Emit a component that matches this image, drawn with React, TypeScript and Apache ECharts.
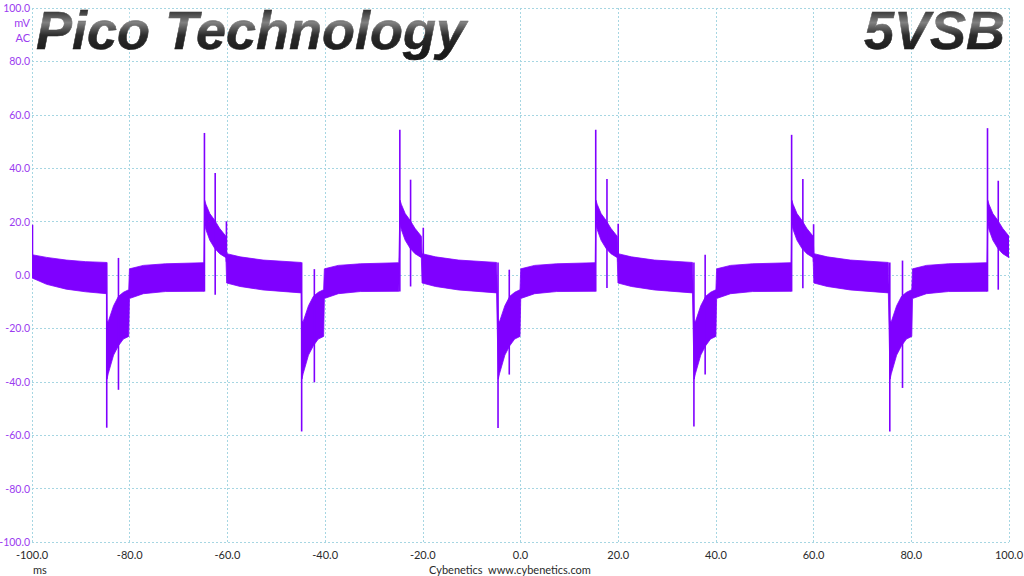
import React, { useEffect, useRef } from "react";
import * as echarts from "echarts";

// ---- data (time in ms, values in mV) ----
const xTicks = [-100, -80, -60, -40, -20, 0, 20, 40, 60, 80, 100];
const yTicks = [-100, -80, -60, -40, -20, 0, 20, 40, 60, 80, 100];

// times of the negative (falling) and positive (rising) switching events
const negTimes = [-84.7, -44.8, -4.6, 35.5, 75.6];
const posTimes = [-64.7, -24.7, 15.4, 55.5, 95.6];

// noise band before the first event
const leadTimes = [-100, -97, -93, -89, -84.75];
const leadHigh = [7.6, 6.6, 5.6, 5.0, 4.7];
const leadLow = [-1.1, -3.5, -5.3, -6.3, -7.0];

// noise band after a negative event (ms after the event)
const afterNegDt = [0.05, 0.3, 1.4, 2.4, 3.4, 4.5, 4.65, 7.5, 12, 19.9];
const afterNegHigh = [-17, -17.5, -11.5, -8.0, -6.5, -5.5, 2.3, 3.6, 4.2, 4.6];
const afterNegLow = [-39, -37, -30, -26.5, -24, -23, -8.8, -7.0, -6.2, -6.1];

// noise band after a positive event (ms after the event)
const afterPosDt = [0.05, 0.3, 1.1, 2.1, 3.1, 4.4, 4.55, 7.3, 12, 19.8];
const afterPosHigh = [28, 26.5, 23, 20.5, 17.5, 14.5, 8.0, 6.8, 5.6, 4.7];
const afterPosLow = [19, 17, 13, 10, 8, 6.5, -3.0, -4.3, -5.6, -6.7];

// narrow spikes
const spikeTimes = [-99.9, -84.7, -82.3, -64.7, -62.5, -60.2, -44.8, -42.2, -24.7, -22.5, -19.9, -4.6, -2.3, 15.4, 17.7, 20.0, 35.5, 37.8, 55.5, 57.8, 60.0, 75.6, 78.2, 95.6, 97.8];
const spikeHigh = [18.8, 4.7, 6.4, 53.2, 38.2, 20.1, 4.7, 2.2, 54.4, 35.7, 17.7, 4.7, 2.0, 54.4, 36.0, 19.2, 4.7, 7.6, 52.5, 36.0, 19.0, 4.7, 5.4, 55.0, 35.3];
const spikeLow = [0, -57.2, -43.0, -6.2, -7.4, 5.0, -58.6, -40.2, -6.2, -4.3, 5.0, -57.3, -37.3, -6.2, -4.9, 5.0, -56.7, -37.3, -6.2, -5.0, 5.0, -58.6, -42.3, -6.2, -5.5];

const TRACE = "#7f00ff";
const LABEL_PURPLE = "#9b3cf0";
const GRID_COLOR = "#a6d6e2";
const FONT = "Lato, 'Open Sans', sans-serif";
const TITLE_FONT = "italic bold 54px 'Liberation Sans', Arial, sans-serif";

function buildBand(): number[][] {
  const band: number[][] = [];
  leadTimes.forEach((t, i) => band.push([t, leadLow[i], leadHigh[i]]));
  negTimes.forEach((tn, k) => {
    afterNegDt.forEach((d, i) => band.push([tn + d, afterNegLow[i], afterNegHigh[i]]));
    const tp = posTimes[k];
    afterPosDt.forEach((d, i) => {
      const t = tp + d;
      if (t <= 100.001) band.push([t, afterPosLow[i], afterPosHigh[i]]);
    });
  });
  return band;
}

export default function App() {
  const ref = useRef<HTMLDivElement>(null);

  useEffect(() => {
    document.body.style.margin = "0";
    const chart = echarts.init(ref.current!, null, { renderer: "svg" });
    const band = buildBand();
    const spikes = spikeTimes.map((t, i) => [t, spikeLow[i], spikeHigh[i]]);

    const titleStyle = (text: string, align: string) => ({
      text,
      fill: "#1a1a1a",
      stroke: "#000",
      lineWidth: 0.5,
      font: TITLE_FONT,
      align,
      textAlign: align,
      verticalAlign: "top",
      textVerticalAlign: "top",
      shadowColor: "rgba(0,0,0,0.5)",
      shadowBlur: 3,
      shadowOffsetX: 2,
      shadowOffsetY: 2,
    });

    // metallic sheen laid over the titles
    const sheen = (x: number, w: number) => ({
      type: "rect",
      z: 101,
      silent: true,
      shape: { x, y: 10, width: w, height: 42 },
      style: {
        fill: new echarts.graphic.LinearGradient(0, 0, 0, 1, [
          { offset: 0, color: "rgba(255,255,255,0.1)" },
          { offset: 0.3, color: "rgba(255,255,255,0.45)" },
          { offset: 0.6, color: "rgba(255,255,255,0.08)" },
          { offset: 1, color: "rgba(255,255,255,0)" },
        ]),
      },
    });

    chart.setOption({
      animation: false,
      backgroundColor: "#ffffff",
      grid: { left: 32, right: 15, top: 8, bottom: 34, containLabel: false, outerBoundsMode: "none" },
      xAxis: {
        type: "value",
        min: xTicks[0],
        max: xTicks[xTicks.length - 1],
        interval: 20,
        axisLine: { show: false },
        axisTick: { show: false },
        axisLabel: {
          formatter: (v: number) => v.toFixed(1),
          color: "#2a2a2a",
          fontSize: 11,
          fontFamily: FONT,
          margin: 7,
        },
        splitLine: { show: true, lineStyle: { color: GRID_COLOR, type: [2, 2], width: 1 } },
      },
      yAxis: {
        type: "value",
        min: yTicks[0],
        max: yTicks[yTicks.length - 1],
        interval: 20,
        axisLine: { show: false },
        axisTick: { show: false },
        axisLabel: {
          formatter: (v: number) => v.toFixed(1),
          color: LABEL_PURPLE,
          fontSize: 10.5,
          fontFamily: FONT,
          margin: 2,
        },
        splitLine: { show: true, lineStyle: { color: GRID_COLOR, type: [2, 2], width: 1 } },
      },
      series: [
        {
          type: "custom",
          name: "band",
          clip: true,
          encode: { x: 0, y: [1, 2] },
          data: band,
          renderItem: (params: any, api: any) => {
            if (params.dataIndex !== 0) return null;
            const top = band.map((p) => api.coord([p[0], p[2]]));
            const bottom = band.map((p) => api.coord([p[0], p[1]])).reverse();
            return {
              type: "polygon",
              shape: { points: top.concat(bottom) },
              style: { fill: TRACE, stroke: TRACE, lineWidth: 0.8 },
            };
          },
        },
        {
          type: "custom",
          name: "spikes",
          clip: true,
          encode: { x: 0, y: [1, 2] },
          data: spikes,
          renderItem: (params: any, api: any) => {
            const a = api.coord([api.value(0), api.value(1)]);
            const b = api.coord([api.value(0), api.value(2)]);
            return {
              type: "line",
              shape: { x1: a[0], y1: a[1], x2: b[0], y2: b[1] },
              style: { stroke: TRACE, lineWidth: 1.6 },
            };
          },
        },
      ],
      graphic: [
        {
          type: "text",
          x: 30,
          y: 22,
          style: { text: "mV", fill: LABEL_PURPLE, font: `11px ${FONT}`, align: "right", textAlign: "right", verticalAlign: "middle", textVerticalAlign: "middle" },
        },
        {
          type: "text",
          x: 30,
          y: 37,
          style: { text: "AC", fill: LABEL_PURPLE, font: `11px ${FONT}`, align: "right", textAlign: "right", verticalAlign: "middle", textVerticalAlign: "middle" },
        },
        {
          type: "text",
          x: 33,
          y: 569,
          style: { text: "ms", fill: "#2a2a2a", font: `11px ${FONT}`, align: "left", textAlign: "left", verticalAlign: "middle", textVerticalAlign: "middle" },
        },
        {
          type: "text",
          x: 510,
          y: 569,
          style: { text: "Cybenetics  www.cybenetics.com", fill: "#2a2a2a", font: `11px ${FONT}`, align: "center", textAlign: "center", verticalAlign: "middle", textVerticalAlign: "middle" },
        },
        { type: "text", x: 36, y: 3, z: 100, style: titleStyle("Pico Technology", "left") },
        { type: "text", x: 1005, y: 3, z: 100, style: titleStyle("5VSB", "right") },
        sheen(36, 436),
        sheen(860, 148),
      ],
    });

    return () => chart.dispose();
  }, []);

  return (
    <div
      ref={ref}
      style={{ position: "fixed", left: 0, top: 0, width: 1024, height: 576, background: "#fff" }}
    />
  );
}
